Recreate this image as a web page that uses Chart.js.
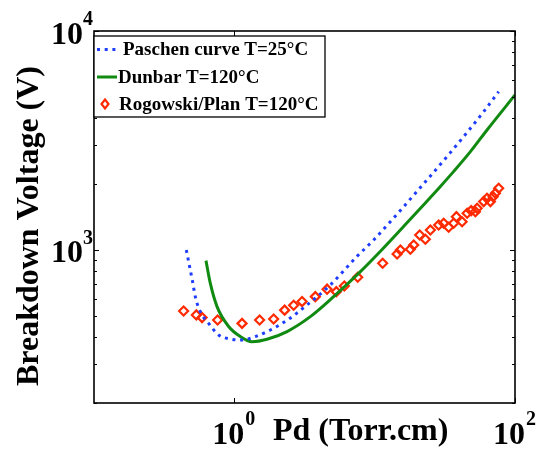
<!DOCTYPE html>
<html>
<head>
<meta charset="utf-8">
<script src="https://cdn.jsdelivr.net/npm/chart.js@4.4.1/dist/chart.umd.min.js"></script>
<style>
  body { margin: 0; background: #fff; }
  canvas { display: block; }
</style>
</head>
<body>
<canvas id="paschenChart" width="540" height="450"></canvas>
<script>
// Paschen curve T=25°C (blue dotted)
const paschenPd = [0.455, 0.48, 0.504, 0.527, 0.572, 0.656, 0.773, 0.936, 1.135, 1.411, 1.806, 2.438, 3.297, 4.83, 7.49, 9.84, 19.5, 34.6, 59.8, 76.5];
const paschenV  = [1000, 839, 717, 612, 523, 462, 409, 392, 388, 402, 431, 483, 561, 692, 935, 1111, 1815, 2782, 4281, 5284];

// Dunbar T=120°C (green line)
const dunbarPd = [0.628, 0.674, 0.753, 0.911, 1.104, 1.337, 1.71, 2.375, 3.48, 5.1, 7.91, 11.3, 17.0, 22.97, 29.4, 36.6, 48.1, 63.2, 100];
const dunbarV  = [894, 705, 551, 447, 402, 381, 391, 424, 496, 612, 796, 1005, 1330, 1640, 1950, 2285, 2812, 3532, 5103];

// Rogowski/Plan T=120°C (red diamonds)
const rogowskiPd = [0.435, 0.536, 0.589, 0.76, 1.135, 1.514, 1.906, 2.283, 2.647, 3.038, 3.778, 4.58, 5.33, 6.08, 7.57,
  11.4, 14.45, 15.25, 17.96, 18.97, 20.94, 22.97, 24.95, 28.58, 31.04, 33.67, 36.56, 38.22, 41.98, 45.6,
  48.7, 52.2, 53.7, 59.8, 63.2, 66.8, 69.8, 72.5, 76.5];
const rogowskiV  = [526, 505, 491, 479, 462, 479, 484, 531, 559, 581, 612, 662, 645, 685, 750,
  869, 959, 1000, 1007, 1054, 1171, 1119, 1234, 1300, 1324, 1269, 1324, 1419, 1346, 1471,
  1512, 1496, 1550, 1663, 1722, 1663, 1751, 1815, 1914];

// axis ticks
const xTickValues = [1, 100];
const yTickValues = [200, 300, 400, 500, 600, 700, 800, 900, 1000, 2000, 3000, 4000, 5000, 6000, 7000, 8000, 9000, 10000];
const yLabelValues = [1000, 10000];
const xLabelValues = [1, 100];

const serif = "'Liberation Serif', 'Times New Roman', serif";

function toPoints(xs, ys) {
    return xs.map((x, i) => ({ x: x, y: ys[i] }));
}

// frame, inward ticks, power-of-ten labels, axis titles and the legend box
const framePlugin = {
    id: 'framePlugin',
    afterDraw(chart) {
        const ctx = chart.ctx;
        const a = chart.chartArea;
        const xs = chart.scales.x;
        const ys = chart.scales.y;
        ctx.save();

        // box
        ctx.strokeStyle = '#000';
        ctx.lineWidth = 1.6;
        ctx.strokeRect(a.left, a.top, a.right - a.left, a.bottom - a.top);

        // y ticks, both sides
        ctx.lineWidth = 1;
        ys.ticks.forEach(t => {
            const py = Math.round(ys.getPixelForValue(t.value)) + 0.5;
            const len = yLabelValues.includes(t.value) ? 5 : 3;
            ctx.beginPath();
            ctx.moveTo(a.left, py); ctx.lineTo(a.left + len, py);
            ctx.moveTo(a.right, py); ctx.lineTo(a.right - len, py);
            ctx.stroke();
        });
        // x ticks, top and bottom
        xs.ticks.forEach(t => {
            const px = Math.round(xs.getPixelForValue(t.value)) + 0.5;
            ctx.beginPath();
            ctx.moveTo(px, a.bottom); ctx.lineTo(px, a.bottom - 5);
            ctx.moveTo(px, a.top); ctx.lineTo(px, a.top + 5);
            ctx.stroke();
        });

        // tick labels 10^n
        ctx.fillStyle = '#000';
        yLabelValues.forEach(v => {
            const py = ys.getPixelForValue(v);
            ctx.font = 'bold 32px ' + serif;
            ctx.textAlign = 'right';
            ctx.textBaseline = 'alphabetic';
            ctx.fillText('10', 83, py + 12.5);
            ctx.font = 'bold 20px ' + serif;
            ctx.textAlign = 'left';
            ctx.fillText(String(Math.round(Math.log10(v))), 83, py - 6);
        });
        xLabelValues.forEach(v => {
            const px = xs.getPixelForValue(v);
            ctx.font = 'bold 32px ' + serif;
            ctx.textAlign = 'center';
            ctx.textBaseline = 'alphabetic';
            ctx.fillText('10', px - 6, 444);
            ctx.font = 'bold 20px ' + serif;
            ctx.textAlign = 'left';
            ctx.fillText(String(Math.round(Math.log10(v))), px + 11, 425);
        });

        // axis titles
        ctx.font = 'bold 32px ' + serif;
        ctx.textAlign = 'left';
        ctx.fillText('Pd (Torr.cm)', 273, 439.5);
        ctx.save();
        ctx.translate(38, 226);
        ctx.rotate(-Math.PI / 2);
        ctx.textAlign = 'center';
        ctx.fillText('Breakdown Voltage (V)', 0, 0);
        ctx.restore();

        // legend
        const lx = a.left, ly = a.top + 5, lw = 231, lh = 81;
        ctx.fillStyle = '#fff';
        ctx.fillRect(lx, ly, lw, lh);
        ctx.strokeStyle = '#000';
        ctx.lineWidth = 1.3;
        ctx.strokeRect(lx, ly, lw, lh);
        const rows = [ly + 13.5, ly + 41, ly + 68];
        const textX = [lx + 29, lx + 24, lx + 25];
        chart.data.datasets.forEach((ds, i) => {
            const ry = rows[i];
            ctx.strokeStyle = ds.borderColor;
            if (ds.showLine === false) {
                ctx.lineWidth = 2.2;
                ctx.beginPath();
                const cx = lx + 11, r = 4;
                ctx.moveTo(cx, ry - r - 0.5); ctx.lineTo(cx + r - 0.5, ry);
                ctx.lineTo(cx, ry + r + 0.5); ctx.lineTo(cx - r + 0.5, ry);
                ctx.closePath();
                ctx.stroke();
            } else {
                ctx.lineWidth = ds.borderWidth;
                ctx.setLineDash(ds.borderDash || []);
                ctx.beginPath();
                ctx.moveTo(lx + 3, ry); ctx.lineTo(lx + 23, ry);
                ctx.stroke();
                ctx.setLineDash([]);
            }
            ctx.fillStyle = '#000';
            ctx.font = 'bold 19px ' + serif;
            ctx.textAlign = 'left';
            ctx.textBaseline = 'middle';
            ctx.fillText(ds.label, textX[i], ry + 1);
        });

        ctx.restore();
    }
};

const ctx = document.getElementById('paschenChart').getContext('2d');
const paschenChart = new Chart(ctx, {
    type: 'line',
    data: {
        datasets: [{
            label: 'Paschen curve T=25°C',
            data: toPoints(paschenPd, paschenV),
            borderColor: '#1f3dff',
            borderWidth: 3,
            borderDash: [3, 4.7],
            pointRadius: 0,
            cubicInterpolationMode: 'monotone',
            fill: false
        }, {
            label: 'Dunbar T=120°C',
            data: toPoints(dunbarPd, dunbarV),
            borderColor: '#118a11',
            borderWidth: 3,
            pointRadius: 0,
            cubicInterpolationMode: 'monotone',
            fill: false
        }, {
            label: 'Rogowski/Plan T=120°C',
            data: toPoints(rogowskiPd, rogowskiV),
            borderColor: '#ff2a00',
            backgroundColor: 'rgba(255,255,255,0)',
            showLine: false,
            pointStyle: 'rectRot',
            pointRadius: 4.5,
            pointBorderWidth: 2.2
        }]
    },
    options: {
        responsive: false,
        animation: false,
        devicePixelRatio: 1,
        layout: { padding: { left: 94, top: 31, right: 25, bottom: 47 } },
        plugins: {
            legend: { display: false },
            tooltip: { enabled: false }
        },
        scales: {
            x: {
                type: 'logarithmic',
                min: 0.1,
                max: 100,
                afterBuildTicks: s => { s.ticks = xTickValues.map(v => ({ value: v })); },
                afterFit: s => { s.height = 0; },
                ticks: { display: false },
                grid: { display: false },
                border: { display: false }
            },
            y: {
                type: 'logarithmic',
                min: 200,
                max: 10000,
                afterBuildTicks: s => { s.ticks = yTickValues.map(v => ({ value: v })); },
                afterFit: s => { s.width = 0; },
                ticks: { display: false },
                grid: { display: false },
                border: { display: false }
            }
        }
    },
    plugins: [framePlugin]
});
</script>
</body>
</html>
